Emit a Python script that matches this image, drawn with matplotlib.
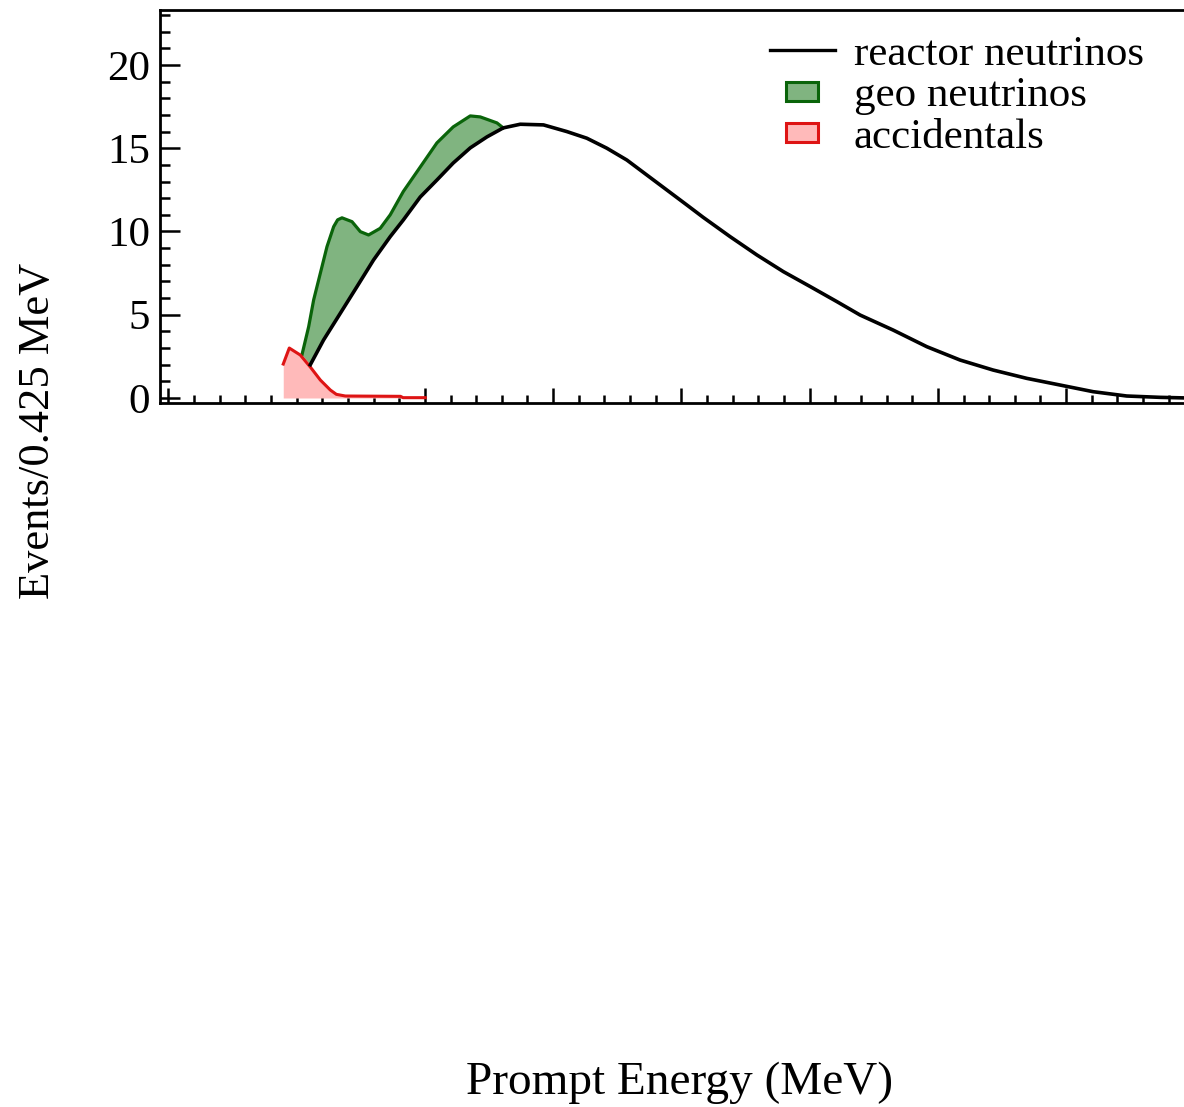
import numpy as np
import matplotlib
matplotlib.use("Agg")
import matplotlib.pyplot as plt
from matplotlib.lines import Line2D
from matplotlib.patches import Patch, Rectangle
from matplotlib.legend_handler import HandlerPatch
from matplotlib.ticker import MultipleLocator

# Reactor antineutrino prompt spectrum (events per 0.425 MeV)
reactor_energy = [1.107, 1.210, 1.341, 1.471, 1.600, 1.730, 1.832, 1.964, 2.094,
                  2.221, 2.354, 2.484, 2.611, 2.744, 2.925, 3.107, 3.263, 3.419,
                  3.575, 3.731, 3.887, 4.043, 4.170, 4.380, 4.589, 4.795, 5.005,
                  5.212, 5.394, 5.651, 5.914, 6.173, 6.430, 6.693, 6.952, 7.210,
                  7.472, 7.732, 7.95]
reactor_counts = [2.00, 3.48, 5.09, 6.69, 8.29, 9.69, 10.69, 12.07, 13.09,
                  14.11, 15.02, 15.68, 16.22, 16.44, 16.40, 16.00, 15.60, 15.00,
                  14.29, 13.39, 12.49, 11.59, 10.85, 9.69, 8.59, 7.59, 6.69,
                  5.79, 4.98, 4.08, 3.08, 2.28, 1.68, 1.18, 0.78, 0.38,
                  0.12, 0.04, 0.0]

# Geo-neutrino signal stacked on the reactor spectrum (upper edge of the band)
geo_top_energy = [1.042, 1.094, 1.133, 1.185, 1.237, 1.289, 1.320, 1.354, 1.432,
                  1.497, 1.561, 1.652, 1.730, 1.832, 1.964, 2.094, 2.221, 2.354,
                  2.432, 2.562, 2.611]
geo_top_counts = [2.60, 4.28, 5.89, 7.49, 9.09, 10.29, 10.70, 10.82, 10.59,
                  9.99, 9.79, 10.19, 11.00, 12.40, 13.87, 15.32, 16.28, 16.94,
                  16.88, 16.52, 16.22]

# Accidental coincidence background
acc_energy = [0.896, 0.943, 1.029, 1.107, 1.185, 1.263, 1.310, 1.380, 1.810, 1.830, 2.003]
acc_counts = [2.04, 3.00, 2.58, 1.86, 1.08, 0.48, 0.22, 0.12, 0.10, 0.02, 0.02]

legend_labels = ["reactor neutrinos", "geo neutrinos", "accidentals"]

GREEN_EDGE = "#0a640a"
GREEN_FILL = "#80b480"
RED_EDGE = "#de1414"
RED_FILL = "#ffbaba"

plt.rcParams["font.family"] = ["Liberation Serif", "DejaVu Serif"]

W, H = 1184, 1107
fig = plt.figure(figsize=(W / 100, H / 100), dpi=100)
ax = fig.add_axes([160 / W, 1 - 403 / H, 1034.4 / W, 393 / H])

ax.set_xlim(-0.065, 8.0)
ax.set_ylim(-0.30, 23.30)

# geo band between reactor curve and stacked curve
r_e = np.array(reactor_energy)
r_c = np.array(reactor_counts)
mask = r_e <= geo_top_energy[-1] + 1e-9
poly_x = np.concatenate([geo_top_energy, r_e[mask][::-1]])
poly_y = np.concatenate([geo_top_counts, r_c[mask][::-1]])
ax.fill(poly_x, poly_y, color=GREEN_FILL, lw=0, zorder=2)
ax.plot(geo_top_energy, geo_top_counts, color=GREEN_EDGE, lw=2.3,
        solid_joinstyle="round", zorder=3)

# accidentals
ax.fill_between(acc_energy, 0, acc_counts, color=RED_FILL, lw=0, zorder=2)
ax.plot(acc_energy, acc_counts, color=RED_EDGE, lw=2.2,
        solid_joinstyle="round", zorder=3)

# reactor spectrum
ax.plot(reactor_energy, reactor_counts, color="black", lw=2.6,
        solid_joinstyle="round", zorder=4)

# axes styling
for side in ("left", "bottom", "top", "right"):
    ax.spines[side].set_linewidth(2.0)
ax.xaxis.set_major_locator(MultipleLocator(1))
ax.xaxis.set_minor_locator(MultipleLocator(0.2))
ax.yaxis.set_major_locator(MultipleLocator(5))
ax.yaxis.set_minor_locator(MultipleLocator(1))
ax.tick_params(axis="x", which="major", direction="in", length=11, width=1.8,
               bottom=True, top=False, labelbottom=False)
ax.tick_params(axis="x", which="minor", direction="in", length=6, width=1.8,
               bottom=True, top=False)
ax.tick_params(axis="y", which="major", direction="in", length=14.5, width=1.8,
               left=True, right=False, labelsize=31, pad=7)
ax.tick_params(axis="y", which="minor", direction="in", length=7.5, width=1.8,
               left=True, right=False)
ax.set_yticks([0, 5, 10, 15, 20])

ax.set_xlabel("Prompt Energy (MeV)", fontsize=34)
ax.xaxis.set_label_coords(680 / W, 1 - 1083 / H, transform=fig.transFigure)
ax.xaxis.label.set_va("center")
ax.set_ylabel("Events/0.425 MeV", fontsize=32)
ax.yaxis.set_label_coords(38 / W, 1 - 431 / H, transform=fig.transFigure)
ax.yaxis.label.set_va("center")


def small_box(legend, orig_handle, xdescent, ydescent, width, height, fontsize):
    w = width * 0.5
    h = height * 0.62
    return Rectangle((-xdescent + (width - w) / 2, -ydescent + (height - h) / 2), w, h)


handles = [
    Line2D([], [], color="black", lw=2.4),
    Patch(facecolor=GREEN_FILL, edgecolor=GREEN_EDGE, lw=2.2),
    Patch(facecolor=RED_FILL, edgecolor=RED_EDGE, lw=2.2),
]
ax.legend(handles, legend_labels, loc="upper left",
          bbox_to_anchor=(770 / W, 1 - 35 / H), bbox_transform=fig.transFigure,
          frameon=False, fontsize=31, handlelength=1.5, handleheight=0.7,
          handletextpad=0.45, labelspacing=0.05, borderpad=0, borderaxespad=0,
          handler_map={Patch: HandlerPatch(patch_func=small_box)})

fig.savefig("out.png", dpi=100)
